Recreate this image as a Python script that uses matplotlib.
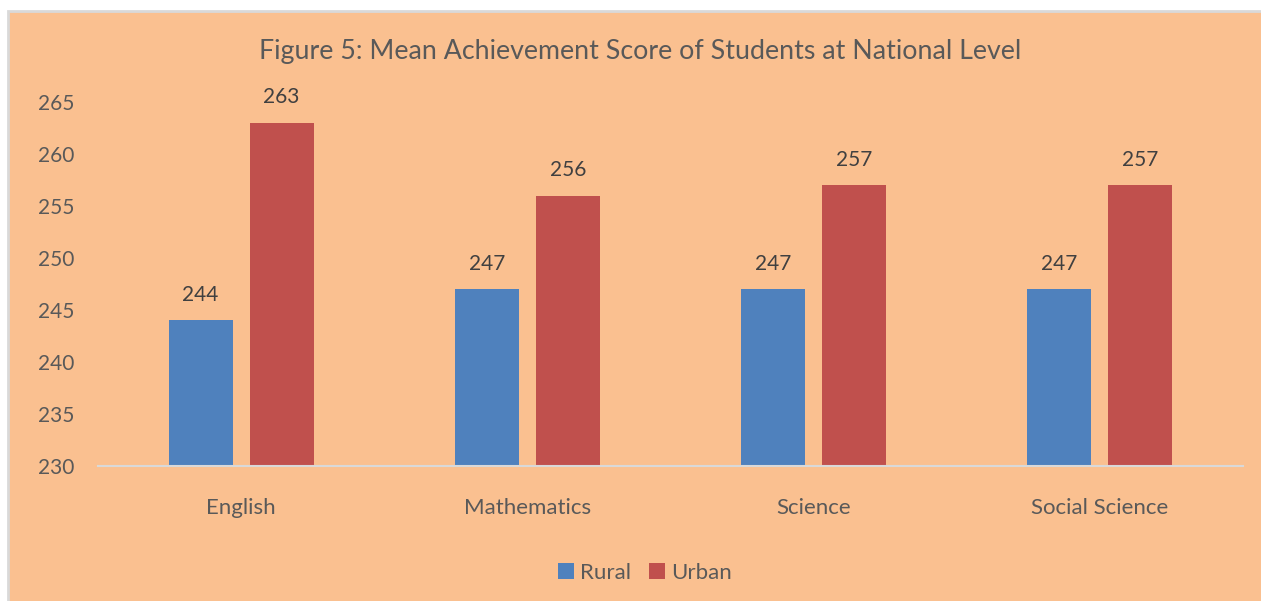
import matplotlib.pyplot as plt
import matplotlib.patches as patches
import numpy as np

subjects = ["English", "Mathematics", "Science", "Social Science"]
rural = [244, 247, 247, 247]
urban = [263, 256, 257, 257]
yticks = [230, 235, 240, 245, 250, 255, 260, 265]

plt.rcParams['font.family'] = ['Lato', 'DejaVu Sans']
txt = '#595959'
bg = '#FAC090'

fig = plt.figure(figsize=(12.61, 6.01), dpi=100)
fig.patch.set_facecolor('white')
# orange chart area with light grey edge
fig.patches.append(patches.Rectangle((8/1261, -0.01), 1 - 8/1261 + 0.01, 1 - 11/601 + 0.01,
                                     transform=fig.transFigure, facecolor=bg,
                                     edgecolor='#D9D9D9', linewidth=2, zorder=-5))

ax = fig.add_axes([98/1261, 1 - 466/601, (1243 - 98)/1261, 364/601])
ax.set_facecolor('none')

x = np.arange(len(subjects))
w = 0.224
off = 0.1416
b1 = ax.bar(x - off, np.array(rural) - 230, w, bottom=230, color='#4F81BD', label='Rural')
b2 = ax.bar(x + off, np.array(urban) - 230, w, bottom=230, color='#C0504D', label='Urban')

for xs, vals in ((x - off, rural), (x + off, urban)):
    for xi, v in zip(xs, vals):
        ax.text(xi, v + 1.5, str(v), ha='center', va='bottom', fontsize=15, color='#404040')

ax.set_xlim(-0.5, 3.5)
ax.set_ylim(230, 265)
ax.set_yticks(yticks)
ax.set_xticks(x)
ax.set_xticklabels(subjects)
ax.tick_params(axis='y', length=0, labelsize=15, labelcolor=txt, pad=43)
ax.tick_params(axis='x', length=0, labelsize=16, labelcolor=txt, pad=23)
for s in ['top', 'right', 'left']:
    ax.spines[s].set_visible(False)
ax.spines['bottom'].set_color('#D9D9D9')
ax.spines['bottom'].set_linewidth(1.5)
for lab in ax.get_yticklabels():
    lab.set_horizontalalignment('left')

fig.text(640/1261, 1 - 51/601, "Figure 5: Mean Achievement Score of Students at National Level",
         ha='center', va='center', fontsize=19.3, color=txt)

fig.legend(handles=[b1, b2], loc='center', bbox_to_anchor=(645/1261, 1 - 573/601), ncol=2,
           frameon=False, fontsize=16, labelcolor=txt, handlelength=0.7, handleheight=0.7,
           handletextpad=0.3, columnspacing=0.8)

fig.savefig('out.png', dpi=100, facecolor=fig.get_facecolor())
